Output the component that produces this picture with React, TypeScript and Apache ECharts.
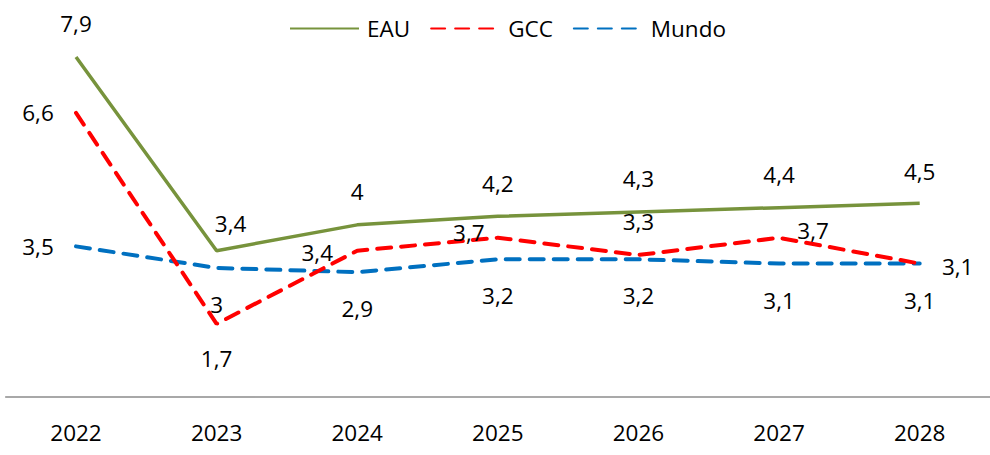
import React, { useEffect, useRef } from "react";
import * as echarts from "echarts";

const categories = ["2022", "2023", "2024", "2025", "2026", "2027", "2028"];
const eauValues = [7.9, 3.4, 4, 4.2, 4.3, 4.4, 4.5];
const gccValues = [6.6, 1.7, 3.4, 3.7, 3.3, 3.7, 3.1];
const mundoValues = [3.5, 3, 2.9, 3.2, 3.2, 3.1, 3.1];

// label offsets (layout only): [dx, dy] from point to label centre
const eauLabelOffsets = [[0, -34], [14, -27], [0, -33], [0, -33], [0, -33], [0, -33], [0, -32]];
const gccLabelOffsets = [[-38, 0], [0, 35], [-40, 2], [-29, -5], [0, -33], [34, -7], [38, 3]];
const mundoLabelOffsets = [[-38, 0], [0, 37], [0, 36], [0, 36], [0, 36], [0, 37], [0, 37]];

const FONT = "'Open Sans', 'Noto Sans', sans-serif";

function buildData(values: number[], offsets: number[][]) {
  return values.map((v, i) => ({
    value: v,
    label: { offset: offsets[i] },
  }));
}

export default function App() {
  const ref = useRef<HTMLDivElement>(null);

  useEffect(() => {
    if (!ref.current) return;
    const chart = echarts.init(ref.current, null, { renderer: "svg" });
    const labelCommon = {
      show: true,
      position: "inside",
      fontFamily: FONT,
      fontSize: 22.5,
      color: "#000",
      formatter: (p: any) => String(p.value).replace(".", ","),
    };
    const mk = (name: string, color: string, values: number[], offsets: number[][], dashed: boolean, z: number) => ({
      name,
      type: "line",
      data: buildData(values, offsets),
      symbol: "circle",
      symbolSize: 1,
      showSymbol: true,
      itemStyle: { color: "rgba(0,0,0,0)" },
      lineStyle: dashed
        ? { color, width: 4, type: [14, 10], cap: "round" }
        : { color, width: 3.5 },
      label: labelCommon,
      z,
    });
    chart.setOption({
      animation: false,
      backgroundColor: "#fff",
      legend: {
        left: 289,
        top: 17,
        padding: 0,
        itemWidth: 69,
        itemHeight: 14,
        itemGap: 20,
        textStyle: { fontFamily: FONT, fontSize: 22.5, color: "#000", padding: [0, 0, 0, 3] },
        data: ["EAU", "GCC", "Mundo"],
      },
      grid: { left: 5.7, right: 0, top: 9.7, bottom: 58 },
      xAxis: {
        type: "category",
        data: categories,
        boundaryGap: true,
        axisLine: { lineStyle: { color: "#8c8c8c", width: 1.5 } },
        axisTick: { show: false },
        axisLabel: { fontFamily: FONT, fontSize: 22.5, color: "#000", margin: 24 },
      },
      yAxis: {
        type: "value",
        min: 0,
        max: 9,
        show: false,
        splitLine: { show: false },
      },
      series: [
        mk("EAU", "#77933C", eauValues, eauLabelOffsets, false, 3),
        mk("GCC", "#FF0000", gccValues, gccLabelOffsets, true, 2),
        mk("Mundo", "#0070C0", mundoValues, mundoLabelOffsets, true, 1),
      ],
    });
    return () => chart.dispose();
  }, []);

  return (
    <div
      ref={ref}
      style={{ position: "fixed", left: 0, top: 0, width: 990, height: 455, background: "#fff" }}
    />
  );
}
